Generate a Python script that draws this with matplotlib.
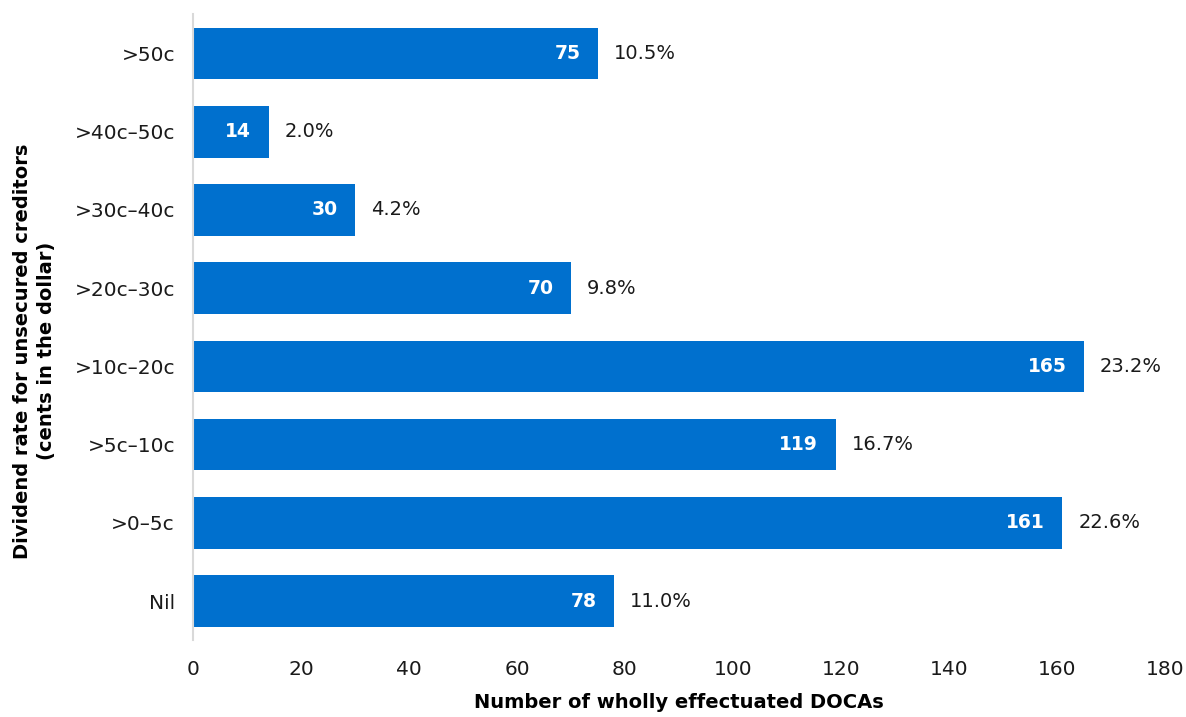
import matplotlib
matplotlib.use("Agg")
import matplotlib.pyplot as plt

categories = ["Nil", ">0\u20135c", ">5c\u201310c", ">10c\u201320c", ">20c\u201330c",
              ">30c\u201340c", ">40c\u201350c", ">50c"]
counts = [78, 161, 119, 165, 70, 30, 14, 75]
shares = ["11.0%", "22.6%", "16.7%", "23.2%", "9.8%", "4.2%", "2.0%", "10.5%"]

bar_color = "#0070CE"

plt.rcParams["font.family"] = ["DejaVu Sans"]

fig = plt.figure(figsize=(11.86, 7.17), dpi=100)
ax = fig.add_axes([0.1627, 0.107, 0.8196, 0.873])

ypos = list(range(len(categories)))
ax.barh(ypos, counts, height=0.66, color=bar_color)

for y, c, s in zip(ypos, counts, shares):
    ax.annotate(str(c), (c, y), xytext=(-12.5, 0), textcoords="offset points",
                ha="right", va="center", color="white", fontsize=13.5, fontweight="bold")
    ax.annotate(s, (c, y), xytext=(11.5, 0), textcoords="offset points",
                ha="left", va="center", color="#1a1a1a", fontsize=14)

ax.set_xlim(0, 180)
ax.set_ylim(-0.5, 7.5)
ax.set_xticks(range(0, 181, 20))
ax.set_yticks(ypos)
ax.set_yticklabels(categories)
ax.tick_params(axis="both", length=0, labelsize=14.5, colors="#1a1a1a")
ax.tick_params(axis="x", pad=14)
ax.tick_params(axis="y", pad=13)

for side in ["top", "right", "bottom"]:
    ax.spines[side].set_visible(False)
ax.spines["left"].set_color("#D9D9D9")
ax.spines["left"].set_linewidth(1.5)

ax.set_xlabel("Number of wholly effectuated DOCAs", fontsize=14, fontweight="bold", labelpad=10)
fig.text(0.029, 0.51, "Dividend rate for unsecured creditors\n(cents in the dollar)",
         rotation=90, ha="center", va="center", fontsize=14, fontweight="bold",
         multialignment="center", linespacing=1.35)

fig.savefig("out.png", dpi=100)
